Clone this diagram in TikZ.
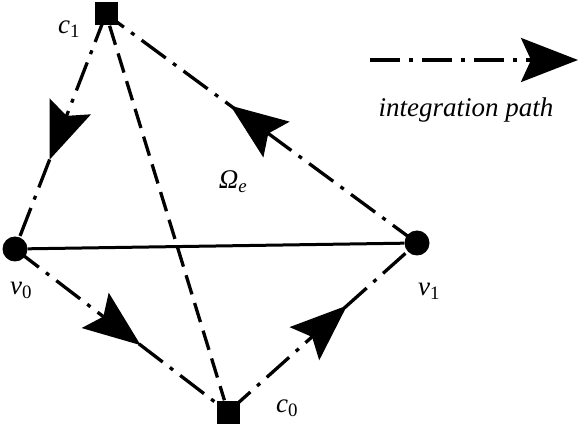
\documentclass[tikz,border=0pt]{standalone}
\usepackage{fontspec}
\setmainfont{Liberation Serif}
\usetikzlibrary{arrows.meta,decorations.markings}
\tikzset{
  bigtip/.tip={Stealth[length=57pt,width=44pt,inset=10pt]},
  vert/.style={circle,fill=black,inner sep=0pt,minimum size=25pt},
  corner/.style={rectangle,fill=black,inner sep=0pt,minimum size=23pt},
  dashdot/.style={line width=3.3pt,dash pattern=on 30pt off 9pt on 4pt off 9pt},
  longdash/.style={line width=3.3pt,dash pattern=on 20pt off 9pt},
  solidline/.style={line width=3pt},
  midarrow/.style={postaction={decorate,decoration={markings,mark=at position #1 with {\arrow{bigtip}}}}},
  lbl/.style={font=\fontsize{27}{32}\selectfont\itshape,inner sep=0pt}
}
\newcommand{\vlab}[2]{#1\textsubscript{\upshape #2}}
\begin{document}
\begin{tikzpicture}[x=1pt,y=-1pt]
\useasboundingbox (0,0) rectangle (578,427);
\node[corner] (c1) at (106,14) {};
\node[vert] (v0) at (15,249) {};
\node[vert] (v1) at (417,243) {};
\node[corner] (c0) at (228,412) {};
% edges
\draw[solidline] (v0) -- (v1);
\draw[longdash] (c1) -- (c0);
\draw[dashdot,midarrow=0.62] (c1.center) -- (v0.center);
\draw[dashdot,midarrow=0.60] (v1.center) -- (c1.center);
\draw[dashdot,midarrow=0.59] (v0.center) -- (c0.center);
\draw[dashdot,midarrow=0.63] (c0.center) -- (v1.center);
% labels
\node[lbl] (lc1) at (69,29) {\vlab{c}{1}};
\node[lbl] (lv0) at (21,290) {\vlab{v}{0}};
\node[lbl] (lv1) at (429,291) {\vlab{v}{1}};
\node[lbl] (lc0) at (287,408) {\vlab{c}{0}};
\node[lbl] (om) at (233,182) {Ω\textsubscript{\itshape e}};
% legend
\coordinate (la) at (370,60);
\coordinate (lb) at (578,60);
\draw[dashdot,-{bigtip}] (la) -- (lb);
\node[lbl] (legtext) at (466,110) {integration path};
\end{tikzpicture}
\end{document}
